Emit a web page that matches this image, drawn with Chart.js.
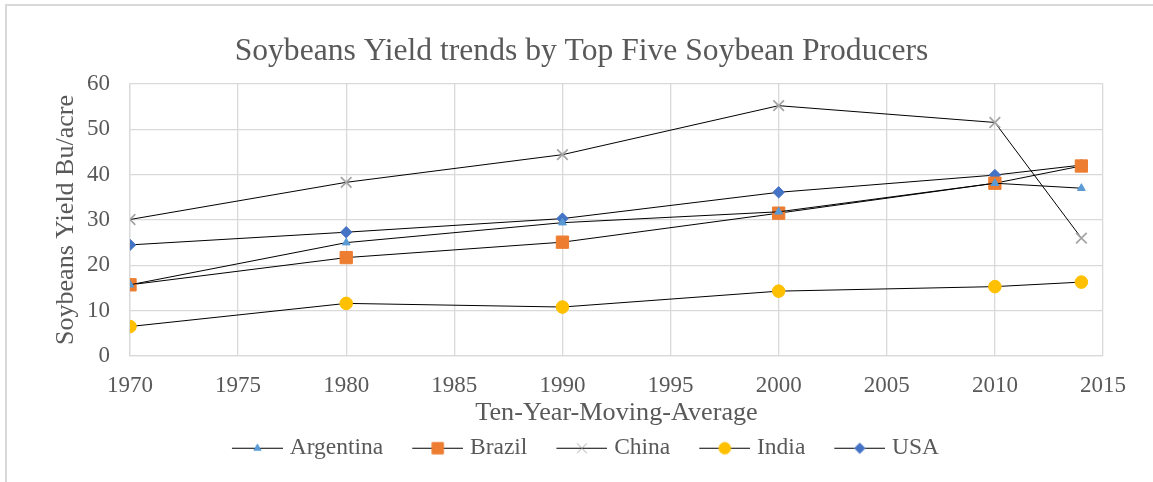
<!DOCTYPE html>
<html>
<head>
<meta charset="utf-8">
<script src="https://cdn.jsdelivr.net/npm/chart.js@4/dist/chart.umd.min.js"></script>
<style>
  html, body { margin: 0; padding: 0; background: #fff; overflow: hidden; }
  #wrap { position: relative; width: 1153px; height: 482px; overflow: hidden; }
  #frame { position: absolute; left: 5px; top: 4px; width: 1300px; height: 700px; border: 2px solid #D9D9D9; box-sizing: border-box; }
  canvas { position: absolute; left: 0; top: 0; }
</style>
</head>
<body>
<div id="wrap">
  <div id="frame"></div>
  <canvas id="c" width="1153" height="482"></canvas>
</div>
<script>
const years = [1970, 1980, 1990, 2000, 2010, 2014];
const seriesNames = ['Argentina', 'Brazil', 'China', 'India', 'USA'];
const argentina = [15.7, 25.0, 29.4, 31.8, 38.1, 37.0];
const brazil    = [15.7, 21.7, 25.1, 31.5, 38.1, 41.9];
const china     = [30.1, 38.3, 44.4, 55.2, 51.5, 26.0];
const india     = [6.5, 11.6, 10.8, 14.3, 15.3, 16.3];
const usa       = [24.5, 27.3, 30.3, 36.1, 39.9, 42.1];
const xTicks = [1970, 1975, 1980, 1985, 1990, 1995, 2000, 2005, 2010, 2015];
const yTicks = [0, 10, 20, 30, 40, 50, 60];

const FONT = "'Liberation Serif', 'Times New Roman', serif";
const TXT = '#595959';
const GRID = '#D9D9D9';

const styles = [
  { color: '#5B9BD5', pointStyle: 'triangle', radius: 4.5, bw: 1 },
  { color: '#ED7D31', pointStyle: 'rect', radius: 8.7, bw: 1 },
  { color: '#A5A5A5', pointStyle: 'crossRot', radius: 7.5, bw: 1.75 },
  { color: '#FFC000', pointStyle: 'circle', radius: 6.3, bw: 1 },
  { color: '#4472C4', pointStyle: 'rectRot', radius: 5.7, bw: 1 }
];
const values = [argentina, brazil, china, india, usa];

function legendImage(st) {
  const cv = document.createElement('canvas');
  cv.width = 75; cv.height = 24;
  const g = cv.getContext('2d');
  g.strokeStyle = '#000'; g.lineWidth = 1;
  g.beginPath(); g.moveTo(24, 12.5); g.lineTo(75, 12.5); g.stroke();
  g.fillStyle = st.color; g.strokeStyle = st.color;
  Chart.helpers.drawPoint(g, { pointStyle: st.pointStyle, radius: st.radius * 0.92, borderWidth: st.bw, rotation: 0 }, 49.5, 12.5);
  return cv;
}

const datasets = seriesNames.map((name, i) => ({
  label: name,
  data: years.map((yr, k) => ({ x: yr, y: values[i][k] })),
  borderColor: '#000',
  borderWidth: 1,
  pointStyle: styles[i].pointStyle,
  pointRadius: styles[i].radius,
  pointHoverRadius: styles[i].radius,
  pointBackgroundColor: styles[i].color,
  pointBorderColor: styles[i].color,
  pointBorderWidth: styles[i].bw,
  tension: 0,
  fill: false
}));

const legendShift = {
  id: 'legendShift',
  afterLayout(chart) {
    if (chart.legend) { chart.legend.left -= 5.5; chart.legend.right -= 5.5; }
  }
};

new Chart(document.getElementById('c'), {
  type: 'line',
  data: { datasets },
  plugins: [legendShift],
  options: {
    responsive: false,
    animation: false,
    events: [],
    layout: { padding: { left: 60, right: 50, top: 0, bottom: 12.5 } },
    plugins: {
      title: {
        display: true,
        text: 'Soybeans Yield trends by Top Five Soybean Producers',
        color: TXT,
        font: { family: FONT, size: 31.6, weight: 'normal', lineHeight: 1.2 },
        padding: { top: 32.5, bottom: 13.5 }
      },
      legend: {
        position: 'bottom',
        labels: {
          color: TXT,
          font: { family: FONT, size: 23.5 },
          usePointStyle: true,
          pointStyleWidth: 65,
          padding: 10,
          generateLabels: (chart) => chart.data.datasets.map((ds, i) => ({
            text: ds.label,
            pointStyle: legendImage(styles[i]),
            fillStyle: styles[i].color,
            strokeStyle: styles[i].color,
            lineWidth: 0,
            hidden: false,
            datasetIndex: i,
            fontColor: TXT
          }))
        }
      },
      tooltip: { enabled: false }
    },
    scales: {
      x: {
        type: 'linear',
        min: 1970, max: 2015,
        afterBuildTicks: (s) => { s.ticks = xTicks.map(v => ({ value: v })); },
        ticks: { color: TXT, font: { family: FONT, size: 23 }, padding: 16, maxRotation: 0, callback: (v) => String(v) },
        grid: { color: GRID, lineWidth: 1.3, drawTicks: false },
        border: { color: GRID, width: 1.3 },
        title: { display: true, text: 'Ten-Year-Moving-Average', color: TXT, font: { family: FONT, size: 26.2 }, padding: { top: 0, bottom: -2.7 } },
        afterFit: (s) => { s.height = 70; }
      },
      y: {
        min: 0, max: 60,
        afterBuildTicks: (s) => { s.ticks = yTicks.map(v => ({ value: v })); },
        ticks: { color: TXT, font: { family: FONT, size: 23 }, padding: 20 },
        grid: { color: GRID, lineWidth: 1.3, drawTicks: false },
        border: { color: GRID, width: 1.3 },
        title: { display: true, text: 'Soybeans Yield Bu/acre', color: TXT, font: { family: FONT, size: 26 }, padding: { top: -9, bottom: 0 } },
        afterFit: (s) => { s.width = 70; }
      }
    }
  }
});
</script>
</body>
</html>
